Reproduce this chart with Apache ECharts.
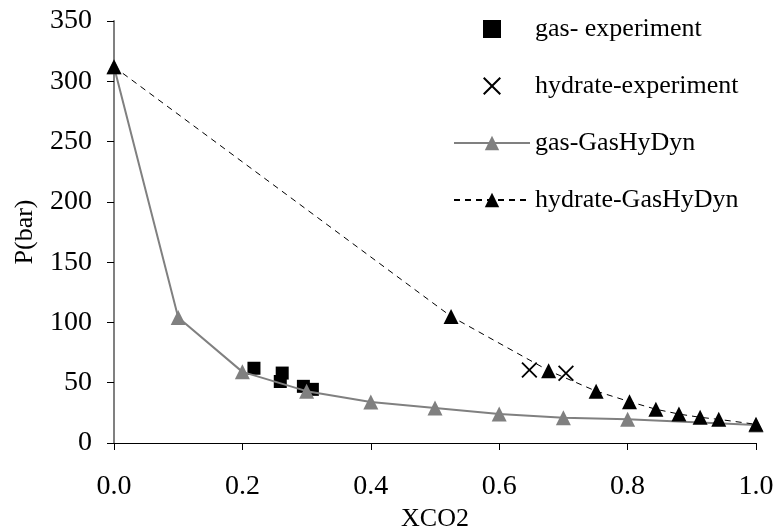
<!DOCTYPE html>
<html>
<head>
<meta charset="utf-8">
<script src="https://cdn.jsdelivr.net/npm/echarts@6/dist/echarts.min.js"></script>
<style>
  html, body { margin: 0; padding: 0; background: #fff; }
  #chart { width: 779px; height: 531px; }
</style>
</head>
<body>
<div id="chart"></div>
<script>
// values
const gasExpX = [0.218, 0.259, 0.262, 0.295, 0.309]
const gasExpP = [62, 51, 58, 47, 44.5]

const hydExpX = [0.647, 0.704]
const hydExpP = [60.5, 57.8]

const gasModelX = [0, 0.1, 0.2, 0.3, 0.4, 0.5, 0.6, 0.7, 0.8, 1.0]
const gasModelP = [312, 104, 59, 43, 34, 29, 24, 21, 19.6, 15]

const hydModelX = [0, 0.525, 0.677, 0.751, 0.803, 0.844, 0.880, 0.913, 0.942, 1.0]
const hydModelP = [312, 105, 60, 43, 34.3, 28, 24, 21.3, 19.6, 15.5]

const pairs = (xs, ys) => xs.map((x, i) => [x, ys[i]])

const font = '"Liberation Serif", "Times New Roman", serif'
const squarePath = 'path://M0,0L10,0L10,10L0,10Z'
const crossPath = 'path://M0,0.8L0.8,0L5,4.2L9.2,0L10,0.8L5.8,5L10,9.2L9.2,10L5,5.8L0.8,10L0,9.2L4.2,5Z'

const chart = echarts.init(document.getElementById('chart'))

chart.setOption({
  animation: false,
  backgroundColor: '#fff',
  textStyle: { fontFamily: font, color: '#000' },
  grid: { left: 114, right: 23, top: 21, bottom: 88, containLabel: false, outerBoundsMode: 'none' },
  legend: {
    orient: 'vertical',
    left: 448,
    top: 11,
    itemWidth: 76,
    itemHeight: 18,
    itemGap: 31,
    textStyle: { fontFamily: font, fontSize: 26, color: '#000' },
    data: ['gas- experiment', 'hydrate-experiment', 'gas-GasHyDyn', 'hydrate-GasHyDyn']
  },
  xAxis: {
    type: 'value',
    min: 0,
    max: 1,
    interval: 0.2,
    name: 'XCO2',
    nameLocation: 'middle',
    nameGap: 60,
    nameTextStyle: { fontFamily: font, fontSize: 26, color: '#000' },
    axisLine: { lineStyle: { color: '#000', width: 1 } },
    axisTick: { length: 7, lineStyle: { color: '#000' } },
    axisLabel: {
      margin: 30,
      fontFamily: font,
      fontSize: 28,
      color: '#000',
      formatter: v => v.toFixed(1)
    },
    splitLine: { show: false }
  },
  yAxis: {
    type: 'value',
    min: 0,
    max: 350,
    interval: 50,
    name: 'P(bar)',
    nameLocation: 'middle',
    nameGap: 76,
    nameTextStyle: { fontFamily: font, fontSize: 26, color: '#000' },
    axisLine: { show: true, lineStyle: { color: '#808080', width: 2 } },
    axisTick: { show: true, length: 7, lineStyle: { color: '#000' } },
    axisLabel: { margin: 22, fontFamily: font, fontSize: 28, color: '#000' },
    splitLine: { show: false }
  },
  series: [
    {
      name: 'gas- experiment',
      type: 'scatter',
      symbol: squarePath,
      symbolSize: 13,
      itemStyle: { color: '#000', opacity: 1 },
      data: pairs(gasExpX, gasExpP)
    },
    {
      name: 'hydrate-experiment',
      type: 'scatter',
      symbol: crossPath,
      symbolSize: 16,
      itemStyle: { color: '#000', opacity: 1 },
      data: pairs(hydExpX, hydExpP)
    },
    {
      name: 'gas-GasHyDyn',
      type: 'line',
      symbol: 'triangle',
      symbolSize: 15,
      showAllSymbol: true,
      lineStyle: { color: '#808080', width: 2 },
      itemStyle: { color: '#808080' },
      data: pairs(gasModelX, gasModelP)
    },
    {
      name: 'hydrate-GasHyDyn',
      type: 'line',
      symbol: 'triangle',
      symbolSize: 15,
      showAllSymbol: true,
      lineStyle: { color: '#000', width: 1, type: [6, 5] },
      itemStyle: { color: '#000' },
      data: pairs(hydModelX, hydModelP)
    }
  ]
})
</script>
</body>
</html>
